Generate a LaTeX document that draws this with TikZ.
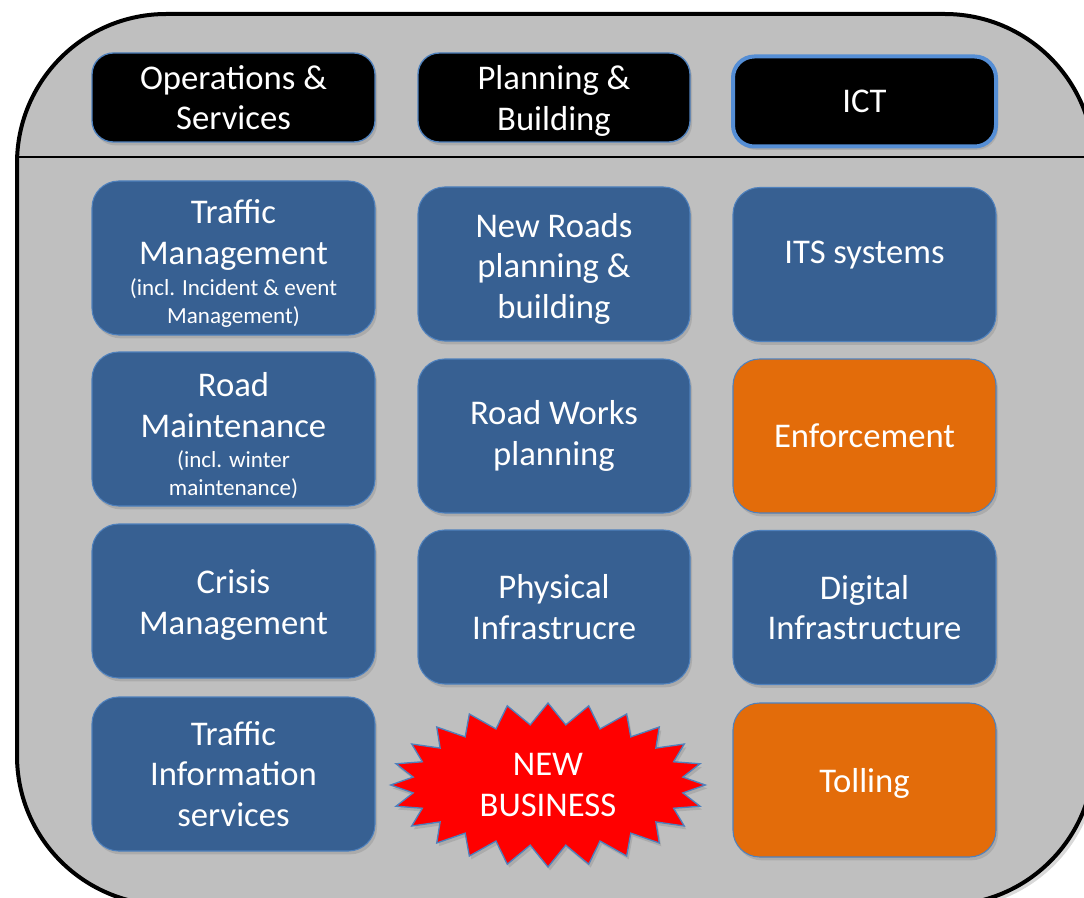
\documentclass[tikz,border=0pt]{standalone}
\usepackage{fontspec}
\setmainfont{Carlito}
\usetikzlibrary{shapes.symbols,shadows}

\definecolor{panelgray}{RGB}{191,191,191}
\definecolor{tileblue}{RGB}{55,96,146}
\definecolor{tileedge}{RGB}{79,129,189}
\definecolor{tileorange}{RGB}{227,108,10}
\definecolor{ictedge}{RGB}{85,142,213}
\newcommand\maintxt{\fontsize{26}{30.5}\selectfont}
\newcommand\smalltxt{\fontsize{17.3}{30.5}\selectfont}

\begin{document}
\begin{tikzpicture}[x=0.75pt,y=-0.75pt,
    boxshadow/.style={drop shadow={shadow xshift=1.5pt,shadow yshift=-2.5pt,opacity=0.3}},
    header/.style={rounded corners=16pt,fill=black,draw=tileedge,line width=1pt,
      text=white,align=center,font=\maintxt,minimum height=66.75pt,boxshadow},
    tile/.style={rounded corners=20pt,fill=tileblue,draw=tileedge,line width=0.8pt,
      text=white,align=center,font=\maintxt,minimum height=115.5pt,inner sep=2pt,boxshadow},
    hottile/.style={tile,fill=tileorange},
    colA/.style={minimum width=212.25pt},
    colB/.style={minimum width=204pt},
    colC/.style={minimum width=197.25pt},
    burst/.style={starburst,starburst points=24,random starburst=0,
      starburst point height=16pt,minimum width=236pt,minimum height=123pt,
      fill=red,draw=tileedge,line width=1pt,text=white,align=center,font=\maintxt,
      inner sep=0pt,boxshadow}]
    \useasboundingbox (0,0) rectangle (1084,898);
    \clip (0,0) rectangle (1084,898);
    % Outer panel and divider
    \path[draw=black,line width=3pt,fill=panelgray,rounded corners=112pt,
      drop shadow={shadow xshift=3pt,shadow yshift=-3pt,opacity=0.3}]
      (17,14) rectangle (1094,905);
    \draw[line width=2.2pt] (17,157) -- (1094,157);
    % Column headers
    \node[header,colA] (ops) at (233.5,97.5) {Operations \&\\Services};
    \node[header,colB] (plan) at (554,97.5) {\rule{0pt}{23.6pt}Planning \&\\Building};
    \node[header,colC,draw=ictedge,line width=3pt,minimum height=67.5pt] (ict) at (864.5,101.5) {ICT};
    % Operations & Services
    \node[tile,colA] (trafman) at (233.5,258) {\rule{0pt}{26pt}Traffic\\Management\\[-7.5pt]{\smalltxt (incl. Incident \& event}\\[-9.5pt]{\smalltxt Management)}};
    \node[tile,colA] (roadmaint) at (233.5,429) {\rule{0pt}{28pt}Road\\Maintenance\\[-8pt]{\smalltxt (incl. winter}\\[-9.5pt]{\smalltxt maintenance)}};
    \node[tile,colA] (crisis) at (233.5,601) {\rule{0pt}{23.6pt}Crisis\\Management};
    \node[tile,colA] (trafinfo) at (233.5,774) {Traffic\\Information\\services};
    % Planning & Building
    \node[tile,colB] (newroads) at (554,264) {\rule{0pt}{25pt}New Roads\\planning \&\\building};
    \node[tile,colB] (roadworks) at (554,436) {Road Works\\planning};
    \node[tile,colB] (physinfra) at (554,607) {Physical\\Infrastrucre};
    \node[burst] (newbiz) at (548,785) {NEW\\BUSINESS};
    % ICT
    \node[tile,colC] (its) at (864.5,264.5) {\rule[-18.5pt]{0pt}{1pt}ITS systems};
    \node[hottile,colC] (enforce) at (864.5,436) {Enforcement};
    \node[tile,colC] (diginfra) at (864.5,607.5) {Digital\\Infrastructure};
    \node[hottile,colC] (tolling) at (864.5,780) {\rule{0pt}{23.6pt}Tolling};
\end{tikzpicture}
\end{document}
